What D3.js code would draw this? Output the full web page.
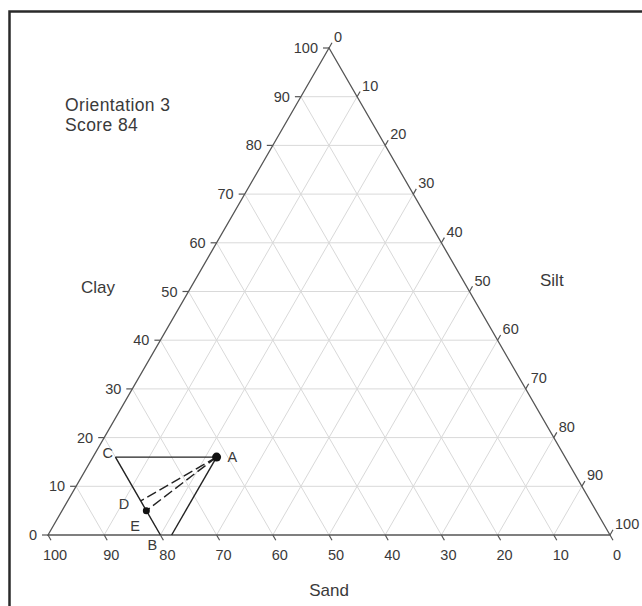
<!DOCTYPE html>
<html>
<head>
<meta charset="utf-8">
<script src="https://cdn.jsdelivr.net/npm/d3@7"></script>
<style>
  html, body { margin: 0; padding: 0; background: #fff; }
  svg { display: block; }
  text { font-family: "Liberation Sans", Arial, sans-serif; fill: #3a3a3a; }
</style>
</head>
<body>
<svg id="chart" width="642" height="606"></svg>
<script>
// Tick values along each side of the soil texture triangle
const tickValues = [0, 10, 20, 30, 40, 50, 60, 70, 80, 90, 100];
const gridValues = [10, 20, 30, 40, 50, 60, 70, 80, 90];

// Marked compositions (percent sand / clay / silt)
const pointNames = ["A", "B", "C", "D", "E", "F"];
const sandPct    = [62, 80, 80, 80, 80, 78];
const clayPct    = [16,  0, 16,  7,  5,  0];
const siltPct    = [22, 20,  4, 13, 15, 22];

// Segments joining the marked compositions
const solidSegments  = [["C", "A"], ["A", "F"], ["C", "B"]];
const dashedSegments = [["A", "D"], ["A", "E"]];
const dotNames   = ["A", "E"];
const dotRadius  = [4.5, 3.5];
const labelNames = ["A", "B", "C", "D", "E"];

const headerLines = ["Orientation 3", "Score 84"];

const svg = d3.select("#chart");

// Frame
svg.append("rect")
  .attr("x", 9.5).attr("y", 11.5)
  .attr("width", 700).attr("height", 700)
  .attr("fill", "none").attr("stroke", "#2a2a2a").attr("stroke-width", 2.5);

// Scales: horizontal position from silt + clay/2, vertical from clay
const xs = d3.scaleLinear().domain([0, 100]).range([48, 610]);
const ys = d3.scaleLinear().domain([0, 100]).range([535, 48]);
const px = (sand, clay, silt) => xs(silt + clay / 2);
const py = (sand, clay, silt) => ys(clay);
const pt = (s, c, t) => [px(s, c, t), py(s, c, t)];

const line = d3.line();

// Grid
const grid = svg.append("g").attr("stroke", "#d9d9d9").attr("stroke-width", 1).attr("fill", "none");
gridValues.forEach(v => {
  grid.append("path").attr("d", line([pt(100 - v, v, 0), pt(0, v, 100 - v)]));   // constant clay
  grid.append("path").attr("d", line([pt(v, 0, 100 - v), pt(v, 100 - v, 0)]));   // constant sand
  grid.append("path").attr("d", line([pt(100 - v, 0, v), pt(0, 100 - v, v)]));   // constant silt
});

// Triangle outline
svg.append("path")
  .attr("d", line([pt(100, 0, 0), pt(0, 0, 100), pt(0, 100, 0)]) + "Z")
  .attr("fill", "none").attr("stroke", "#555").attr("stroke-width", 1.3);

const axes = svg.append("g");
const tickLen = 6;
const tickFont = 14.5;
const c60 = Math.cos(Math.PI / 3), s60 = Math.sin(Math.PI / 3);

tickValues.forEach(v => {
  // Clay, left side
  let [x, y] = pt(100 - v, v, 0);
  axes.append("line").attr("x1", x).attr("y1", y).attr("x2", x - tickLen).attr("y2", y)
    .attr("stroke", "#555").attr("stroke-width", 1.2);
  axes.append("text").attr("x", x - 11).attr("y", y + 5)
    .attr("text-anchor", "end").attr("font-size", tickFont).text(v);

  // Sand, bottom side
  [x, y] = pt(v, 0, 100 - v);
  axes.append("line").attr("x1", x).attr("y1", y)
    .attr("x2", x + tickLen * c60).attr("y2", y + tickLen * s60)
    .attr("stroke", "#555").attr("stroke-width", 1.2);
  axes.append("text").attr("x", x + 7).attr("y", y + 25)
    .attr("text-anchor", "middle").attr("font-size", tickFont).text(v);

  // Silt, right side
  [x, y] = pt(0, 100 - v, v);
  axes.append("line").attr("x1", x).attr("y1", y)
    .attr("x2", x + tickLen * c60).attr("y2", y - tickLen * s60)
    .attr("stroke", "#555").attr("stroke-width", 1.2);
  axes.append("text").attr("x", x + 5).attr("y", y - 6)
    .attr("text-anchor", "start").attr("font-size", tickFont).text(v);
});

// Axis titles
svg.append("text").attr("x", 81).attr("y", 293).attr("font-size", 17).text("Clay");
svg.append("text").attr("x", 540).attr("y", 286).attr("font-size", 17).text("Silt");
svg.append("text").attr("x", 329).attr("y", 596).attr("text-anchor", "middle").attr("font-size", 17).text("Sand");

// Header
svg.append("text").attr("x", 65).attr("y", 111).attr("font-size", 17.5)
  .attr("letter-spacing", 0.4)
  .selectAll("tspan").data(headerLines).join("tspan")
  .attr("x", 65).attr("dy", (d, i) => i ? 20 : 0).text(d => d);

// Marked compositions
const pos = {};
pointNames.forEach((n, i) => { pos[n] = pt(sandPct[i], clayPct[i], siltPct[i]); });

const marks = svg.append("g").attr("fill", "none").attr("stroke", "#222").attr("stroke-width", 1.4);
solidSegments.forEach(([a, b]) => marks.append("path").attr("d", line([pos[a], pos[b]])));
dashedSegments.forEach(([a, b]) => marks.append("path").attr("d", line([pos[a], pos[b]]))
  .attr("stroke-dasharray", "10,4"));

dotNames.forEach((n, i) => svg.append("circle")
  .attr("cx", pos[n][0]).attr("cy", pos[n][1]).attr("r", dotRadius[i]).attr("fill", "#111"));

// Point labels
const labelOffset = { A: [11, 5], B: [-13, 15], C: [-13, 1], D: [-22, 8], E: [-16, 20] };
labelNames.forEach(n => svg.append("text")
  .attr("x", pos[n][0] + labelOffset[n][0]).attr("y", pos[n][1] + labelOffset[n][1])
  .attr("font-size", 14.5).text(n));
</script>
</body>
</html>
